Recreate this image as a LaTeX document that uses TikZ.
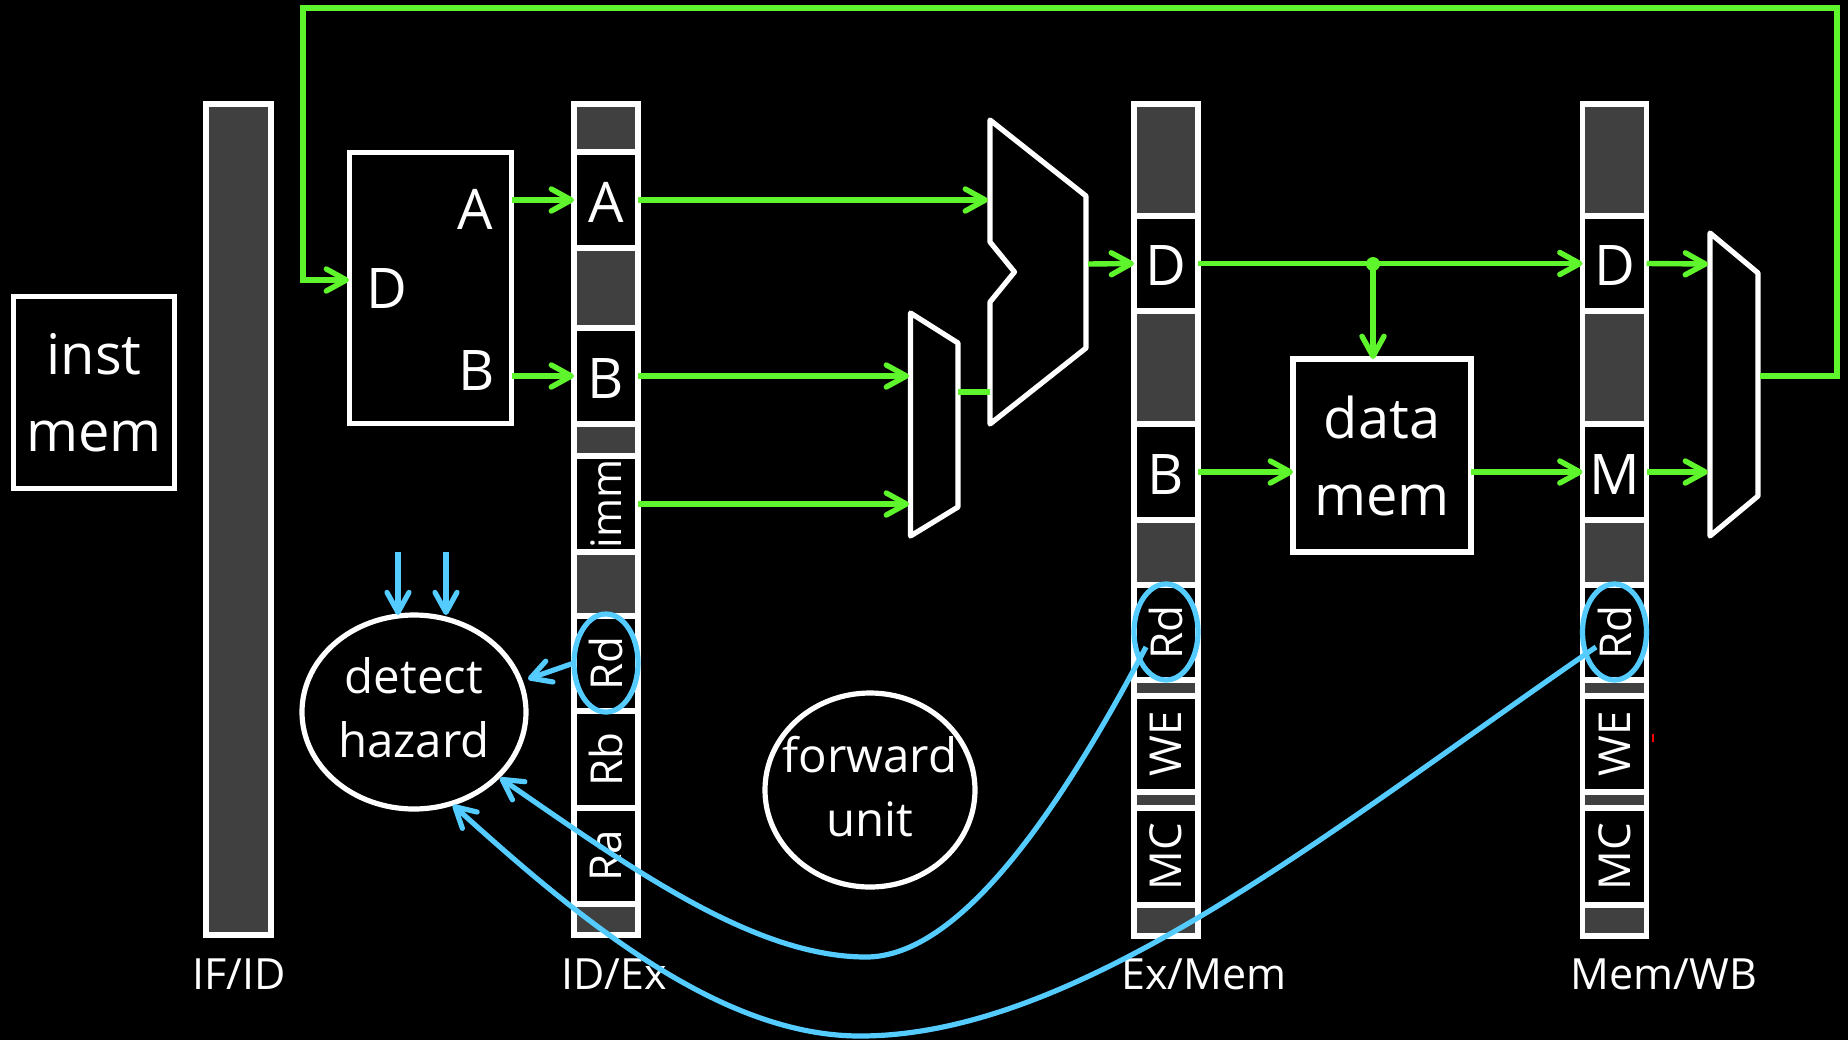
\documentclass[tikz,border=0pt]{standalone}
\usepackage{graphicx}
\usepackage{fontspec}
\setmainfont{Open Sans}
\usetikzlibrary{arrows.meta,shapes.geometric}
\definecolor{wire}{HTML}{5FF52C}
\definecolor{ctl}{HTML}{55CCFF}
\definecolor{pipe}{HTML}{404040}
\newcommand{\rottext}[1]{\rotatebox{90}{#1}}
\newcommand{\lowtext}[1]{\raisebox{-1.2pt}[\height][\depth]{#1}}
\tikzset{
  box/.style={draw=white,fill=black,line width=2.6pt,inner sep=0pt,outer sep=0pt,align=center,text=white},
  bar/.style={box,fill=pipe,minimum width=32pt,anchor=north},
  cell/.style={box,minimum width=32pt,font=\fontsize{28}{34}\selectfont},
  rcell/.style={box,minimum width=32pt,font=\fontsize{22}{26}\selectfont},
  big/.style={box,font=\fontsize{28}{38.5}\selectfont},
  oval/.style={box,ellipse},
  ovaltxt/.style={text=white,inner sep=0pt,align=center,font=\fontsize{23.7}{32}\selectfont},
  txt/.style={text=white,inner sep=0pt,font=\fontsize{28}{34}\selectfont},
  stagecap/.style={text=white,inner sep=0pt,anchor=base,font=\fontsize{21.5}{25}\selectfont},
  mux/.style={draw=white,fill=black,line width=2.6pt,line join=round},
  gw/.style={draw=wire,line width=2.7pt,-{Straight Barb[length=10pt,width=11pt,line width=2.7pt,round]}},
  gl/.style={draw=wire,line width=2.7pt},
  cw/.style={draw=ctl,line width=2.6pt,-{Straight Barb[length=10pt,width=11pt,line width=2.6pt,round]}},
  ring/.style={draw=ctl,line width=2.6pt,ellipse,inner sep=0pt,outer sep=0pt,minimum width=32pt,minimum height=49pt}
}
\begin{document}
\begin{tikzpicture}[x=0.5pt,y=-0.5pt]
\fill[black] (0,0) rectangle (1848,1040);
\useasboundingbox (0,0) rectangle (1848,1040);

% pipeline registers
\node[bar,minimum width=32.5pt,minimum height=415.5pt] (ifid) at (238.5,104) {};
\node[bar,minimum height=415.5pt] (idex) at (606,104) {};
\node[bar,minimum height=416pt] (exmem) at (1166,104) {};
\node[bar,minimum height=416pt] (memwb) at (1614.5,104) {};

% ID/Ex cells
\node[cell,minimum height=48pt] (idA) at (606,200) {\lowtext{A}};
\node[cell,minimum height=48pt] (idB) at (606,376) {\lowtext{B}};
\node[rcell,minimum height=48pt,font=\fontsize{21}{26}\selectfont] (idimm) at (606,504) {\rottext{imm}};
\node[rcell,minimum height=47.5pt] (idRd) at (606,663.5) {\rottext{Rd}};
\node[rcell,minimum height=48.5pt] (idRb) at (606,759.5) {\rottext{Rb}};
\node[rcell,minimum height=48pt] (idRa) at (606,856) {\rottext{Ra}};

% Ex/Mem cells
\node[cell,minimum height=47.5pt] (exD) at (1166,263.5) {\lowtext{D}};
\node[cell,minimum height=48pt] (exB) at (1166,472) {\lowtext{B}};
\node[rcell,minimum height=47.5pt] (exRd) at (1166,632.5) {\rottext{Rd}};
\node[rcell,minimum height=48pt] (exWE) at (1166,744) {\rottext{WE}};
\node[rcell,minimum height=48.5pt] (exMC) at (1166,856.5) {\rottext{MC}};

% Mem/WB cells
\node[cell,minimum height=47.5pt] (wbD) at (1614.5,263.5) {\lowtext{D}};
\node[cell,minimum height=48pt] (wbM) at (1614.5,472) {\lowtext{M}};
\node[rcell,minimum height=47.5pt] (wbRd) at (1614.5,632.5) {\rottext{Rd}};
\node[rcell,minimum height=48pt] (wbWE) at (1614.5,744) {\rottext{WE}};
\node[rcell,minimum height=48.5pt] (wbMC) at (1614.5,856.5) {\rottext{MC}};

% register captions
\node[stagecap] (capa) at (239,989.5) {IF/ID};
\node[stagecap] (capb) at (614,989.5) {ID/Ex};
\node[stagecap] (capc) at (1204,989.5) {Ex/Mem};
\node[stagecap] (capd) at (1664,989.5) {Mem/WB};

% blocks
\node[big,minimum width=80.5pt,minimum height=96pt] (imem) at (94,392.5) {inst\\mem};
\node[box,minimum width=81pt,minimum height=135.5pt] (rf) at (430.5,288) {};
\node[txt] (rfD) at (387,289) {D};
\node[txt] (rfA) at (475.5,209) {A};
\node[txt] (rfB) at (477,371) {B};
\node[big,minimum width=89pt,minimum height=96.5pt] (dmem) at (1382,455.5) {data\\mem};
\node[oval,minimum width=112pt,minimum height=97pt] (hazard) at (414,712) {};
\node[ovaltxt] (hazardt) at (414,708) {detect\\hazard};
\node[oval,minimum width=105pt,minimum height=97pt] (fwd) at (870,790) {};
\node[ovaltxt] (fwdt) at (870,787) {forward\\unit};

% muxes
\draw[mux] (990,120) -- (1086,196) -- (1086,348) -- (990,424) -- (990,302) -- (1014.5,272) -- (990,242) -- cycle;
\draw[mux] (910.5,313) -- (958,343) -- (958,507) -- (910.5,536) -- cycle;
\draw[mux] (1710,233) -- (1758,273) -- (1758,496) -- (1710,536) -- cycle;

% named ports
\coordinate (aluA) at (988,200);
\coordinate (aluB) at (990,392);
\coordinate (aluOut) at (1088,264);
\coordinate (bmuxA) at (909,376);
\coordinate (bmuxB) at (909,504);
\coordinate (bmuxOut) at (958,392);
\coordinate (wbmuxA) at (1708,264);
\coordinate (wbmuxB) at (1708,472);
\coordinate (wbOut) at (1760,376);
\coordinate (fbR) at (1837,376);
\coordinate (fbT) at (1837,8);
\coordinate (fbL) at (303,8);
\coordinate (fbB) at (303,280);
\coordinate (fbIn) at (349,280);
\coordinate (junc) at (1373,264);
\coordinate (hazIn1) at (398,552);
\coordinate (hazIn2) at (446,552);
\coordinate (hazT1) at (398,615);
\coordinate (hazT2) at (446,615);

% green wires
\draw[gw] (rf.east |- idA) -- (idA.west);
\draw[gw] (rf.east |- idB) -- (idB.west);
\draw[gw] (idA.east) -- (aluA);
\draw[gw] (idB.east) -- (bmuxA);
\draw[gw] (idimm.east) -- (bmuxB);
\draw[gl] (bmuxOut) -- (aluB);
\draw[gw] (aluOut) -- (exD.west);
\draw[gw] (exD.east) -- (wbD.west);
\draw[gw] (junc) -- (junc |- dmem.north);
\fill[wire] (junc) circle (3.5pt);
\draw[gw] (exB.east) -- (dmem.west |- exB);
\draw[gw] (dmem.east |- wbM) -- (wbM.west);
\draw[gw] (wbD.east) -- (wbmuxA);
\draw[gw] (wbM.east) -- (wbmuxB);
\draw[gw,line join=miter] (wbOut) -- (fbR) -- (fbT) -- (fbL) -- (fbB) -- (fbIn);

% control: ovals round Rd
\node[ring] (ringa) at (606,663) {};
\node[ring,minimum width=32pt,minimum height=48pt] (ringb) at (1166,632) {};
\node[ring,minimum width=32pt,minimum height=48pt] (ringc) at (1614.5,632) {};

% control arrows
\draw[cw] (hazIn1) -- (hazT1);
\draw[cw] (hazIn2) -- (hazT2);
\draw[cw] (ringa.west) -- (528,679);
\coordinate (sa) at (1146,647);
\coordinate (sb) at (1596,647);
\coordinate (ea) at (500,778);
\coordinate (eb) at (453,805);
\draw[cw] (sa) .. controls (1060,810) and (960,957) .. (866,957) .. controls (750,957) and (620,860) .. (ea);
\draw[cw] (sb) .. controls (1330,830) and (1080,1036) .. (860,1036) .. controls (720,1036) and (580,920) .. (eb);

% stray marks
\draw[red,line width=0.7pt] (1653,734) -- (1653,742);
\end{tikzpicture}
\end{document}
